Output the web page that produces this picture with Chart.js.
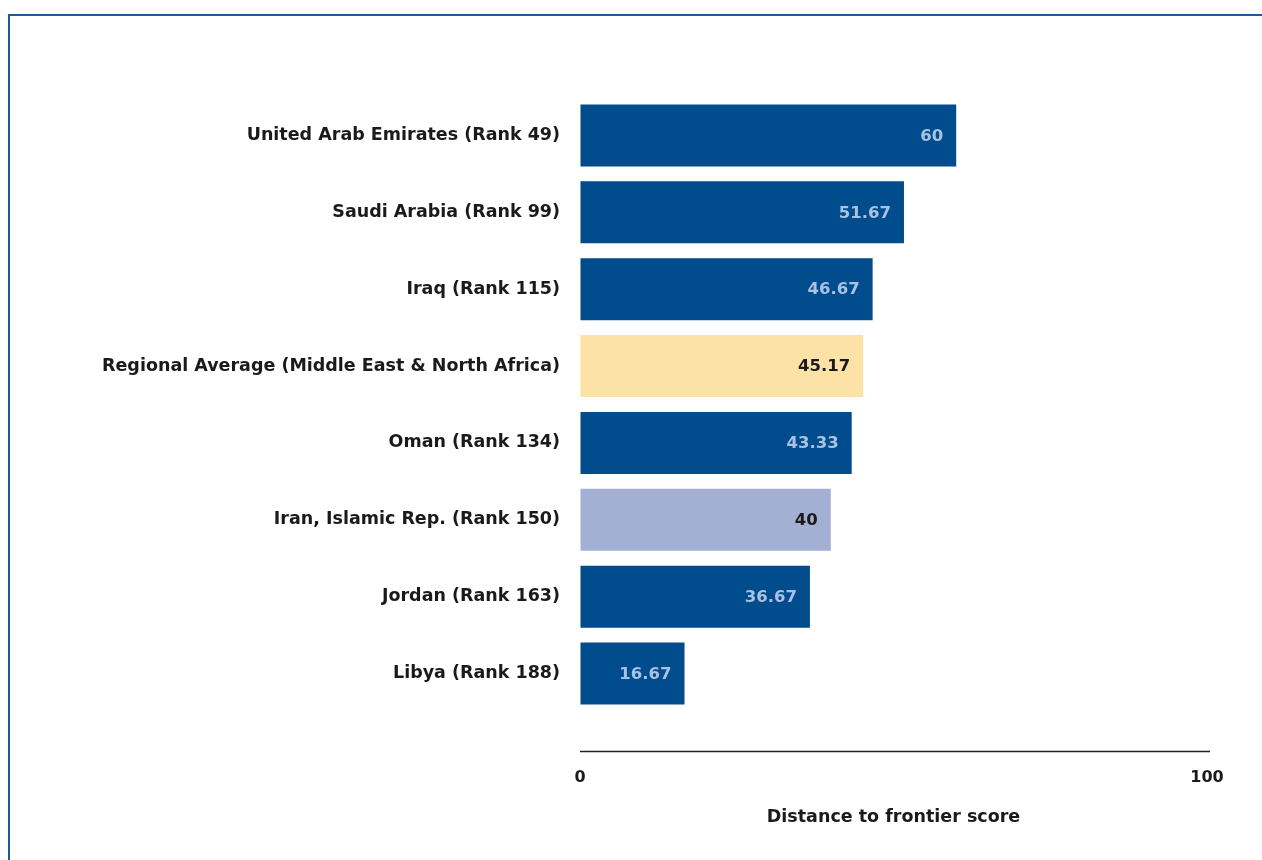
<!DOCTYPE html>
<html>
<head>
<meta charset="utf-8">
<script src="https://cdn.jsdelivr.net/npm/chart.js@4.4.1/dist/chart.umd.min.js"></script>
<style>
    html, body { margin: 0; padding: 0; background: #fff; }
    body { width: 1262px; height: 860px; position: relative; overflow: hidden; }
    .frame {
        position: absolute; left: 8px; top: 14px; right: -4px; bottom: -4px;
        border-top: 2px solid #1d5a99; border-left: 2px solid #1d5a99;
    }
    .chart-wrap { position: absolute; left: 0; top: 0; width: 1262px; height: 860px; }
</style>
</head>
<body>
<div class="frame"></div>
<div class="chart-wrap"><canvas id="scoreChart"></canvas></div>
<script>
const economies = [
    'United Arab Emirates (Rank 49)',
    'Saudi Arabia (Rank 99)',
    'Iraq (Rank 115)',
    'Regional Average (Middle East & North Africa)',
    'Oman (Rank 134)',
    'Iran, Islamic Rep. (Rank 150)',
    'Jordan (Rank 163)',
    'Libya (Rank 188)'
];
const scores = [60, 51.67, 46.67, 45.17, 43.33, 40, 36.67, 16.67];
const barColors = ['#004c8c', '#004c8c', '#004c8c', '#fde2a7', '#004c8c', '#a3b0d3', '#004c8c', '#004c8c'];
const valueColors = ['#a9c2e4', '#a9c2e4', '#a9c2e4', '#1a1a1a', '#a9c2e4', '#1a1a1a', '#a9c2e4', '#a9c2e4'];
const axisTicks = [0, 100];
const axisTitle = 'Distance to frontier score';

const FONT = '"DejaVu Sans", sans-serif';

// value text inside the end of each bar
const valueLabels = {
    id: 'valueLabels',
    afterDatasetsDraw(chart) {
        const { ctx } = chart;
        const meta = chart.getDatasetMeta(0);
        ctx.save();
        ctx.font = 'bold 16.5px ' + FONT;
        ctx.textAlign = 'right';
        ctx.textBaseline = 'middle';
        meta.data.forEach((bar, i) => {
            ctx.fillStyle = valueColors[i];
            ctx.fillText(String(scores[i]), bar.x - 13, bar.y + 1);
        });
        ctx.restore();
    }
};

// the axis line sits a little below the last bar
const baseLine = {
    id: 'baseLine',
    afterDraw(chart) {
        const { ctx, chartArea, scales: { x } } = chart;
        const y = Math.round(chartArea.bottom + 39) + 0.5;
        ctx.save();
        ctx.strokeStyle = '#222';
        ctx.lineWidth = 1.5;
        ctx.beginPath();
        ctx.moveTo(x.left, y);
        ctx.lineTo(x.right + 3, y);
        ctx.stroke();
        ctx.restore();
    }
};

new Chart(document.getElementById('scoreChart'), {
    type: 'bar',
    data: {
        labels: economies,
        datasets: [{
            data: scores,
            backgroundColor: barColors,
            borderWidth: 0,
            barPercentage: 0.805,
            categoryPercentage: 1
        }]
    },
    options: {
        indexAxis: 'y',
        responsive: true,
        maintainAspectRatio: false,
        animation: false,
        layout: { padding: { top: 97, right: 55, bottom: 0, left: 0 } },
        plugins: {
            legend: { display: false },
            tooltip: { enabled: false }
        },
        scales: {
            y: {
                grid: { display: false },
                border: { display: false },
                afterFit: (axis) => { axis.width = 580; },
                ticks: {
                    color: '#1a1a1a',
                    padding: 12,
                    autoSkip: false,
                    font: { family: FONT, size: 17.5, weight: 'bold' }
                }
            },
            x: {
                min: 0,
                max: 100,
                // invisible tick marks push the labels down below the axis line
                grid: { display: true, drawOnChartArea: false, drawTicks: true, tickLength: 53, color: 'rgba(0,0,0,0)' },
                border: { display: false },
                afterFit: (axis) => { axis.height = 148; },
                afterBuildTicks: (axis) => { axis.ticks = axisTicks.map(v => ({ value: v })); },
                ticks: {
                    color: '#1a1a1a',
                    padding: 3,
                    maxRotation: 0,
                    font: { family: FONT, size: 16, weight: 'bold' }
                },
                title: {
                    display: true,
                    text: axisTitle,
                    color: '#1a1a1a',
                    padding: { top: 0, bottom: 32 },
                    font: { family: FONT, size: 17.5, weight: 'bold' }
                }
            }
        }
    },
    plugins: [valueLabels, baseLine]
});
</script>
</body>
</html>
